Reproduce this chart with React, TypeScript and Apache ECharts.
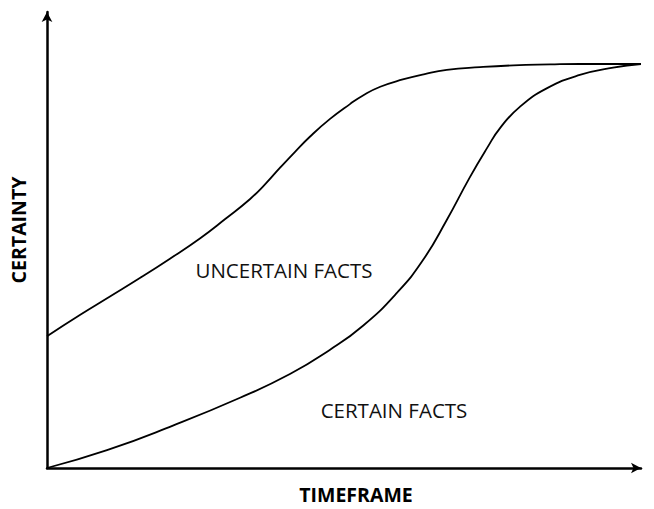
import React, { useEffect, useRef } from "react";
import * as echarts from "echarts";

// Curve samples, x = timeframe (0..100), y = certainty (0..100)
const uncertainX = [0, 5.6, 10.6, 15.7, 20.7, 25.8, 30.0, 34.2, 36.7, 39.2, 41.8, 44.3, 47.6, 51.0, 53.2, 56.1, 59.9, 63.6, 67.3, 72.9, 78.5, 84.7, 89.7, 100];
const uncertainY = [28.9, 33.6, 37.6, 41.7, 45.9, 50.4, 54.6, 59.0, 62.2, 65.8, 69.4, 72.7, 76.5, 79.8, 81.7, 83.6, 85.2, 86.4, 87.3, 87.9, 88.3, 88.5, 88.6, 88.6];

const certainX = [0, 10.1, 21.2, 32.5, 40.9, 47.6, 53.2, 58.9, 63.3, 67.3, 71.2, 74.1, 76.3, 79.6, 84.2, 89.7, 95.3, 100];
const certainY = [0, 3.9, 9.3, 15.4, 20.6, 25.9, 31.2, 38.4, 45.6, 54.4, 63.8, 70.2, 74.6, 79.2, 83.3, 86.2, 87.8, 88.6];

const xAxisName = "TIMEFRAME";
const yAxisName = "CERTAINTY";
const uncertainLabel = "UNCERTAIN FACTS";
const certainLabel = "CERTAIN FACTS";

const FONT = "'Open Sans', 'Noto Sans', sans-serif";

export default function App() {
  const ref = useRef<HTMLDivElement>(null);
  useEffect(() => {
    if (!ref.current) return;
    const chart = echarts.init(ref.current, null, { renderer: "svg" });
    const axisLine = {
      show: true,
      symbol: ["none", "arrow"],
      symbolSize: [8, 10],
      lineStyle: { color: "#000", width: 2.5 },
    };
    const hidden = {
      axisTick: { show: false },
      axisLabel: { show: false },
      splitLine: { show: false },
    };
    chart.setOption({
      animation: false,
      backgroundColor: "#fff",
      grid: { left: 47, right: 13, top: 12, bottom: 41 },
      xAxis: { type: "value", min: 0, max: 100, axisLine, ...hidden },
      yAxis: { type: "value", min: 0, max: 100, axisLine, ...hidden },
      series: [
        {
          type: "line",
          data: uncertainX.map((x, i) => [x, uncertainY[i]]),
          smooth: 0.5,
          symbol: "none",
          lineStyle: { color: "#000", width: 1.8 },
        },
        {
          type: "line",
          data: certainX.map((x, i) => [x, certainY[i]]),
          smooth: 0.5,
          symbol: "none",
          lineStyle: { color: "#000", width: 1.8 },
        },
      ],
      graphic: [
        {
          type: "text",
          x: 284,
          y: 270,
          style: { text: uncertainLabel, fontFamily: FONT, fontSize: 20.5, fill: "#111", align: "center", verticalAlign: "middle" },
        },
        {
          type: "text",
          x: 394,
          y: 410,
          style: { text: certainLabel, fontFamily: FONT, fontSize: 20.5, fill: "#111", align: "center", verticalAlign: "middle" },
        },
        {
          type: "text",
          x: 356,
          y: 494,
          style: { text: xAxisName, fontFamily: FONT, fontWeight: "bold", fontSize: 19.5, fill: "#000", align: "center", verticalAlign: "middle" },
        },
        {
          type: "text",
          x: 18,
          y: 230,
          rotation: Math.PI / 2,
          style: { text: yAxisName, fontFamily: FONT, fontWeight: "bold", fontSize: 19.5, fill: "#000", align: "center", verticalAlign: "middle" },
        },
      ],
    });
    return () => chart.dispose();
  }, []);
  return <div ref={ref} style={{ width: 654, height: 509, position: "absolute", left: 0, top: 0 }} />;
}
